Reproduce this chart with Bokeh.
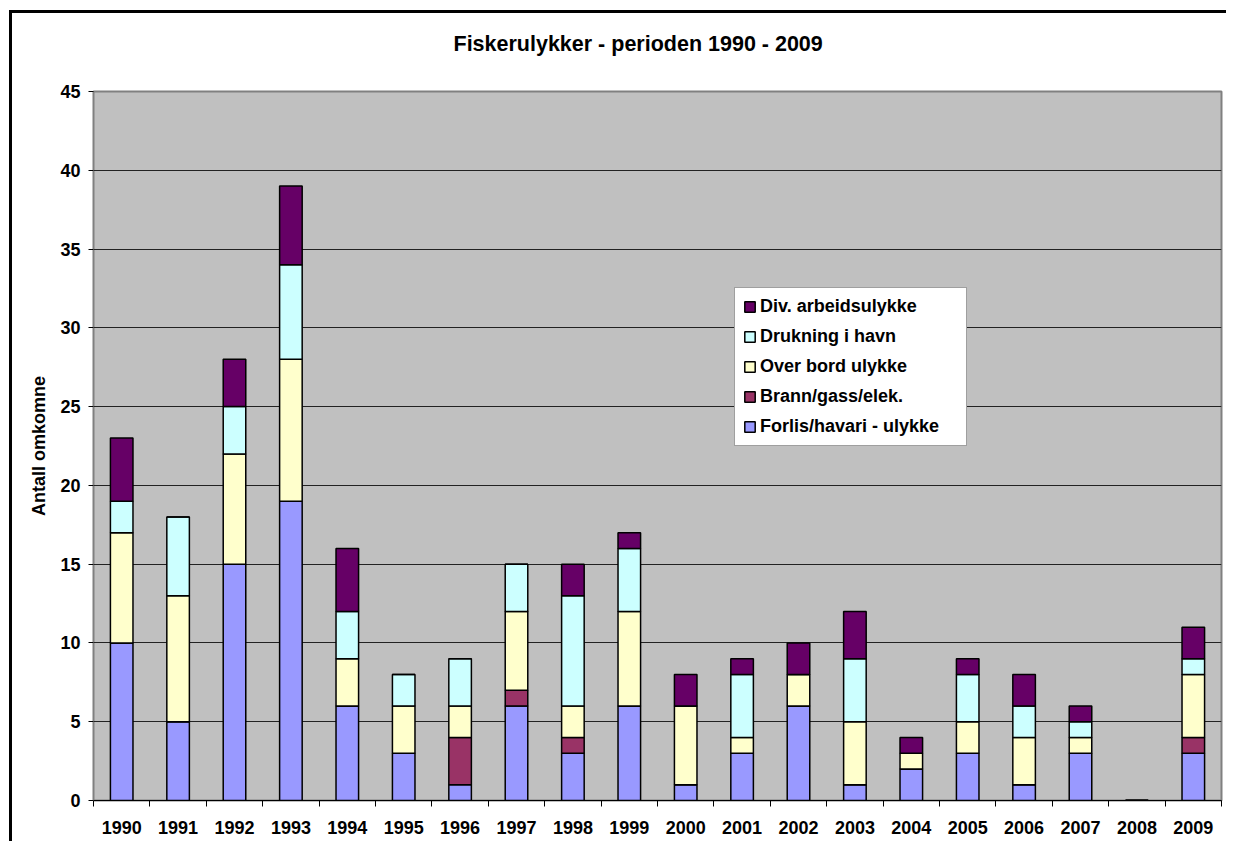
from bokeh.plotting import figure
from bokeh.models import ColumnDataSource, FixedTicker, Legend, LegendItem, Range1d, Title
from bokeh.embed import file_html
from bokeh.resources import INLINE

years = ["1990", "1991", "1992", "1993", "1994", "1995", "1996", "1997", "1998", "1999",
         "2000", "2001", "2002", "2003", "2004", "2005", "2006", "2007", "2008", "2009"]
forlis   = [10, 5, 15, 19, 6, 3, 1, 6, 3, 6, 1, 3, 6, 1, 2, 3, 1, 3, 0, 3]
brann    = [0, 0, 0, 0, 0, 0, 3, 1, 1, 0, 0, 0, 0, 0, 0, 0, 0, 0, 0, 1]
overbord = [7, 8, 7, 9, 3, 3, 2, 5, 2, 6, 5, 1, 2, 4, 1, 2, 3, 1, 0, 4]
drukning = [2, 5, 3, 6, 3, 2, 3, 3, 7, 4, 0, 4, 0, 4, 0, 3, 2, 1, 0, 1]
divarb   = [4, 0, 3, 5, 4, 0, 0, 0, 2, 1, 2, 1, 2, 3, 1, 1, 2, 1, 0, 2]

series = ["forlis", "brann", "overbord", "drukning", "divarb"]
labels = ["Forlis/havari - ulykke", "Brann/gass/elek.", "Over bord ulykke",
          "Drukning i havn", "Div. arbeidsulykke"]
colors = ["#9999FF", "#993366", "#FFFFCC", "#CCFFFF", "#660066"]
yticks = [0, 5, 10, 15, 20, 25, 30, 35, 40, 45]

xpos = [i + 0.5 for i in range(len(years))]
source = ColumnDataSource(dict(x=xpos, year=years, forlis=forlis, brann=brann,
                               overbord=overbord, drukning=drukning, divarb=divarb))

FONT = "Liberation Sans"

p = figure(width=1224, height=831, output_backend="svg", toolbar_location=None,
           title_location=None,
           x_range=Range1d(0, len(years)), y_range=Range1d(0, 45))
p.min_border_left = 81
p.min_border_right = 15
p.min_border_top = 0
p.min_border_bottom = 44
# outer chart frame (left and top edges; the others run off the picture)
p.styles = {"margin-left": "12px", "margin-top": "13px",
            "box-shadow": "-3px -3px 0px 0px black",
            "clip-path": "inset(-3px 10px -3px -3px)"}

p.background_fill_color = "#C0C0C0"
p.border_fill_color = "white"
p.outline_line_color = "#808080"
p.outline_line_width = 2

renderers = p.vbar_stack(series, x="x", width=0.4, source=source, color=colors,
                         line_color="black", line_width=1.5)
for r in renderers:
    r.glyph.line_color = "black"

# spacer between title and plot area, then the title itself
spacer = Title(text=" ", text_font_size="10px", standoff=3)
p.add_layout(spacer, "above")
title = Title(text="Fiskerulykker - perioden 1990 - 2009", text_font=FONT,
              text_font_style="bold", text_font_size="21.5px", text_color="black",
              align="left", vertical_align="top", offset=360, standoff=36)
p.add_layout(title, "above")

# grid
p.xgrid.grid_line_color = None
p.ygrid.grid_line_color = "#222222"
p.ygrid.grid_line_width = 1
p.ygrid.ticker = FixedTicker(ticks=yticks)

# y axis
p.yaxis.ticker = FixedTicker(ticks=yticks)
p.yaxis.axis_label = "Antall omkomne"
p.yaxis.axis_label_text_font = FONT
p.yaxis.axis_label_text_font_style = "bold"
p.yaxis.axis_label_text_font_size = "18px"
p.yaxis.axis_label_text_color = "black"
p.yaxis.axis_label_standoff = 8
p.yaxis.major_label_text_font = FONT
p.yaxis.major_label_text_font_style = "bold"
p.yaxis.major_label_text_font_size = "18px"
p.yaxis.major_label_text_color = "black"
p.yaxis.major_label_standoff = 8
p.yaxis.major_tick_out = 5
p.yaxis.major_tick_in = 0
p.yaxis.minor_tick_line_color = None
p.yaxis.axis_line_color = "#808080"
p.yaxis.major_tick_line_color = "black"

# x axis: labels at category centres, ticks at boundaries
p.xaxis.ticker = FixedTicker(ticks=xpos, minor_ticks=list(range(len(years) + 1)))
p.xaxis.major_label_overrides = {x: y for x, y in zip(xpos, years)}
p.xaxis.major_tick_out = 0
p.xaxis.major_tick_in = 0
p.xaxis.minor_tick_out = 6
p.xaxis.minor_tick_in = 0
p.xaxis.minor_tick_line_color = "black"
p.xaxis.axis_line_color = "black"
p.xaxis.major_label_text_font = FONT
p.xaxis.major_label_text_font_style = "bold"
p.xaxis.major_label_text_font_size = "18px"
p.xaxis.major_label_text_color = "black"
p.xaxis.major_label_standoff = 14

# legend (reverse stack order)
items = [LegendItem(label=lab, renderers=[r]) for lab, r in zip(labels, renderers)][::-1]
legend = Legend(items=items, location=(641, 354))
legend.label_text_font = FONT
legend.label_text_font_style = "bold"
legend.label_text_font_size = "18px"
legend.label_text_color = "black"
legend.glyph_width = 13
legend.glyph_height = 13
legend.label_standoff = 4
legend.label_height = 20
legend.label_width = 198
legend.spacing = 9
legend.padding = 8
legend.border_line_color = "#404040"
legend.border_line_width = 1
legend.background_fill_color = "white"
legend.background_fill_alpha = 1.0
p.add_layout(legend, "center")

open("out.html", "w").write(file_html(p, INLINE))
